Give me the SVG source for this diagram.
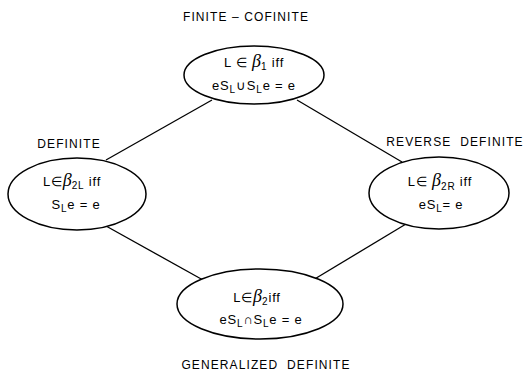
<svg xmlns="http://www.w3.org/2000/svg" width="527" height="377" viewBox="0 0 527 377">
<style>
.node{fill:#fff;stroke:#000;stroke-width:1.5}
.edge{stroke:#000;stroke-width:1.3;fill:none}
.lbl{font-family:"Liberation Sans",Arial,sans-serif;font-size:12px;letter-spacing:1.1px;fill:#000;text-anchor:middle;white-space:pre}
.t{font-family:"Liberation Sans",Arial,sans-serif;font-size:13px;letter-spacing:0.8px;fill:#000;text-anchor:middle}
.b{font-family:"Liberation Serif","Times New Roman",serif;font-style:italic;font-size:18px;letter-spacing:0}
.s{font-size:10px}
</style>
<rect width="527" height="377" fill="#fff"/>
<g id="connectors">
<line class="edge" x1="212" y1="100" x2="106" y2="160"/>
<line class="edge" x1="297" y1="100" x2="402" y2="162"/>
<line class="edge" x1="106" y1="226" x2="203" y2="280"/>
<line class="edge" x1="406" y1="224" x2="313" y2="280"/>
</g>
<g id="finite-cofinite">
<ellipse class="node" cx="254" cy="75" rx="70" ry="29"/>
<text class="lbl" x="246" y="21">FINITE – COFINITE</text>
<text class="t" x="254" y="67">L ∈ <tspan class="b">β</tspan><tspan class="s" dy="3">1</tspan><tspan dy="-3"> iff</tspan></text>
<text class="t" x="254" y="90">eS<tspan class="s" dy="3">L</tspan><tspan dy="-3">∪S</tspan><tspan class="s" dy="3">L</tspan><tspan dy="-3">e = e</tspan></text>
</g>
<g id="definite">
<ellipse class="node" cx="77" cy="194" rx="69" ry="36"/>
<text class="lbl" x="69" y="148">DEFINITE</text>
<text class="t" x="72" y="186">L∈<tspan class="b">β</tspan><tspan class="s" dy="3">2L</tspan><tspan dy="-3"> iff</tspan></text>
<text class="t" x="76" y="209">S<tspan class="s" dy="3">L</tspan><tspan dy="-3">e = e</tspan></text>
</g>
<g id="reverse-definite">
<ellipse class="node" cx="439" cy="193" rx="70" ry="36"/>
<text class="lbl" x="455" y="146">REVERSE  DEFINITE</text>
<text class="t" x="440" y="186">L∈ <tspan class="b">β</tspan><tspan class="s" dy="4">2R</tspan><tspan dy="-4"> iff</tspan></text>
<text class="t" x="441" y="209">eS<tspan class="s" dy="3">L</tspan><tspan dy="-3">= e</tspan></text>
</g>
<g id="generalized-definite">
<ellipse class="node" cx="260" cy="304" rx="83" ry="35"/>
<text class="lbl" x="266" y="369">GENERALIZED  DEFINITE</text>
<text class="t" x="257" y="302">L∈<tspan class="b">β</tspan><tspan class="s" dy="3">2</tspan><tspan dy="-3">iff</tspan></text>
<text class="t" x="261" y="324">eS<tspan class="s" dy="3">L</tspan><tspan dy="-3">∩S</tspan><tspan class="s" dy="3">L</tspan><tspan dy="-3">e = e</tspan></text>
</g>
</svg>
